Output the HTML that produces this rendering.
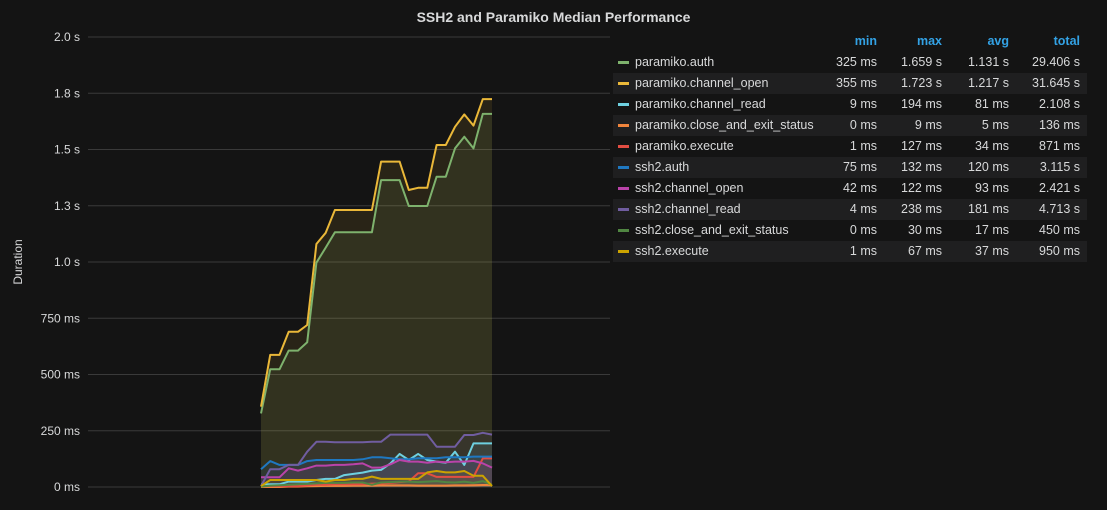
<!DOCTYPE html>
<html><head><meta charset="utf-8"><style>
body{margin:0;background:#141414;width:1107px;height:510px;overflow:hidden;font-family:"Liberation Sans",sans-serif;color:#d8d9da}
#title{position:absolute;left:0;width:1107px;top:9px;text-align:center;font-size:14px;font-weight:bold;color:#d8d9da}
#legend{position:absolute;left:613px;top:31px;width:474px;font-size:12.5px}
.row{position:absolute;left:0;width:474px;height:21px;line-height:21px}
.row.alt{background:#1f1f20}
.sw{position:absolute;left:5px;top:9px;width:11px;height:3px}
.nm{position:absolute;left:22px}
.c{position:absolute;text-align:right;width:70px}
.hd{color:#33a2e5;font-weight:bold}
</style></head><body>
<div id="title">SSH2 and Paramiko Median Performance</div>
<svg id="chart" width="612" height="510" style="position:absolute;left:0;top:0"></svg>
<div id="legend"></div>
<script>
const names=["paramiko.auth","paramiko.channel_open","paramiko.channel_read","paramiko.close_and_exit_status","paramiko.execute","ssh2.auth","ssh2.channel_open","ssh2.channel_read","ssh2.close_and_exit_status","ssh2.execute"];
const colors=["#7eb26d","#eab839","#6ed0e0","#ef843c","#e24d42","#1f78c1","#ba43a9","#705da0","#508642","#cca300"];
const sAuth=[327,523,523,606,606,643,997,1064,1132,1132,1132,1132,1132,1364,1364,1364,1249,1249,1249,1379,1379,1505,1557,1505,1658,1658];
const sOpen=[357,587,587,690,690,720,1080,1130,1231,1231,1231,1231,1231,1446,1446,1446,1320,1330,1330,1520,1520,1601,1656,1606,1724,1724];
const sRead=[12,12,12,24,24,24,31,36,36,53,58,64,73,76,105,147,120,147,120,113,108,157,98,194,194,194];
const sClose=[0,0,0,2,2,3,4,5,5,5,6,6,6,7,7,7,7,6,6,6,6,7,7,8,9,9];
const sExec=[4,4,4,4,4,7,10,10,12,12,12,12,15,15,18,22,25,61,61,45,45,45,45,45,127,127];
const s2Auth=[79,115,98,98,98,115,120,120,120,120,120,123,132,132,128,123,123,128,128,128,132,132,132,135,135,135];
const s2Open=[43,43,43,83,73,83,95,95,98,98,101,105,86,86,101,120,113,113,108,113,110,113,113,116,105,86];
const s2Read=[4,79,79,98,98,157,201,201,199,199,199,199,201,201,233,233,233,233,233,179,179,179,231,231,241,233];
const s2Close=[2,6,8,10,12,14,16,18,18,18,20,20,10,20,22,24,24,22,24,26,22,20,24,18,26,10];
const s2Exec=[4,31,31,31,31,31,31,24,31,31,36,36,46,36,36,36,36,36,65,71,65,65,71,50,50,4];
const series=[sAuth,sOpen,sRead,sClose,sExec,s2Auth,s2Open,s2Read,s2Close,s2Exec];
const yTicks=[0,250,500,750,1000,1250,1500,1750,2000];
const yLabels=["0 ms","250 ms","500 ms","750 ms","1.0 s","1.3 s","1.5 s","1.8 s","2.0 s"];
const mins=["325 ms","355 ms","9 ms","0 ms","1 ms","75 ms","42 ms","4 ms","0 ms","1 ms"];
const maxs=["1.659 s","1.723 s","194 ms","9 ms","127 ms","132 ms","122 ms","238 ms","30 ms","67 ms"];
const avgs=["1.131 s","1.217 s","81 ms","5 ms","34 ms","120 ms","93 ms","181 ms","17 ms","37 ms"];
const totals=["29.406 s","31.645 s","2.108 s","136 ms","871 ms","3.115 s","2.421 s","4.713 s","450 ms","950 ms"];
const NS="http://www.w3.org/2000/svg";
const svg=document.getElementById('chart');
const y=v=>487-v*0.225;
const x=i=>261+i*(231/25);
function mk(t,a){const e=document.createElementNS(NS,t);for(const k in a)e.setAttribute(k,a[k]);svg.appendChild(e);return e;}
yTicks.forEach((v,i)=>{
 const g=mk('line',{x1:88,x2:610,y1:y(v),y2:y(v),stroke:'#3a3a3a','stroke-width':1});
 
 
 const t=mk('text',{x:80,y:y(v)+4,'text-anchor':'end',fill:'#d8d9da','font-size':12,'font-family':'Liberation Sans, sans-serif'});
 t.textContent=yLabels[i];
 
 
});
const yt=mk('text',{x:0,y:0,transform:'translate(22,262) rotate(-90)','text-anchor':'middle',fill:'#d8d9da','font-size':12,'font-family':'Liberation Sans, sans-serif'});
yt.textContent='Duration';


series.forEach((s,k)=>{
 const pts=s.map((v,i)=>x(i).toFixed(1)+','+y(v).toFixed(1));
 const a=mk('path',{d:'M'+x(0)+','+y(0)+' L'+pts.join(' L')+' L'+x(s.length-1)+','+y(0)+'Z',fill:colors[k],'fill-opacity':0.1,stroke:'none'});
 
 
});
series.forEach((s,k)=>{
 const pts=s.map((v,i)=>x(i).toFixed(1)+','+y(v).toFixed(1));
 const l=mk('polyline',{points:pts.join(' '),fill:'none',stroke:colors[k],'stroke-width':2,'stroke-linejoin':'round'});
 
 
});
const lg=document.getElementById('legend');
const cols=[[264,'min',mins],[329,'max',maxs],[396,'avg',avgs],[467,'total',totals]];
let h='<div class="row">';
cols.forEach(c=>{h+='<span class="c hd" style="left:'+(c[0]-70)+'px">'+c[1]+'</span>';});
h+='</div>';
names.forEach((n,i)=>{
 h+='<div class="row'+(i%2?' alt':'')+'" style="top:'+(21+21*i)+'px"><span class="sw" style="background:'+colors[i]+'"></span><span class="nm">'+n+'</span>';
 cols.forEach(c=>{h+='<span class="c" style="left:'+(c[0]-70)+'px">'+c[2][i]+'</span>';});
 h+='</div>';
});
lg.innerHTML=h;
</script>
</body></html>
